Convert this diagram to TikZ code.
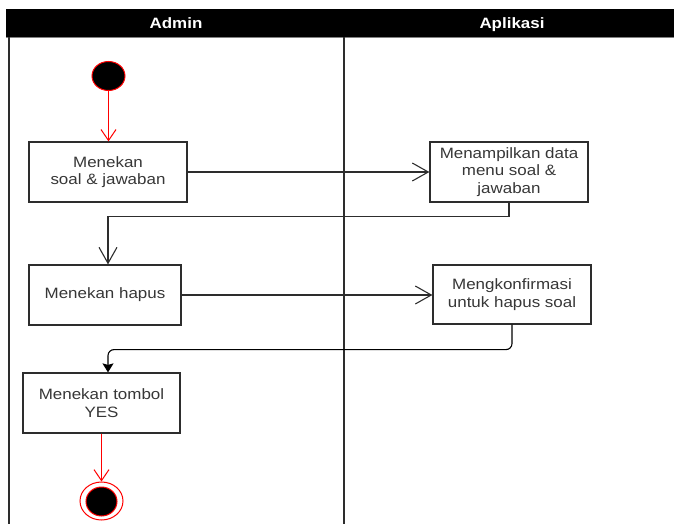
\documentclass[tikz,border=0pt]{standalone}
\usepackage{fontspec}
\setmainfont{Liberation Sans}
\newfontfamily\lblfont[FakeStretch=1.13]{Liberation Sans}
\usetikzlibrary{arrows.meta,shapes.geometric}
\definecolor{txtgray}{RGB}{55,55,55}
\definecolor{linegray}{RGB}{45,45,45}
\definecolor{umlred}{RGB}{255,0,0}
\tikzset{
  actbox/.style={draw=linegray, line width=1.2pt, fill=white, minimum width=158pt, minimum height=60pt,
    inner sep=0pt, align=center, text=txtgray, font=\lblfont\fontsize{15}{17.5}\selectfont},
  flow/.style={draw=linegray, line width=1.1pt, -{Straight Barb[length=16pt,width=18pt,line width=1.1pt]}},
  redflow/.style={draw=umlred, line width=1.1pt, -{Straight Barb[length=11pt,width=15pt,line width=1pt]}},
  blockflow/.style={draw=black, line width=1.1pt, -{Stealth[length=9pt,width=11pt,inset=1.5pt]}},
  lanehead/.style={text=white, anchor=base, inner sep=0pt, font=\lblfont\bfseries\fontsize{15}{17}\selectfont},
  laneline/.style={draw=linegray, line width=2.4pt}
}
\begin{document}
\begin{tikzpicture}[x=1pt,y=-1pt]
\useasboundingbox (0,0) rectangle (674,524);
% header
\fill[black] (6,9) rectangle (674,37);
\draw[gray, line width=0.8pt] (6,37.2) -- (674,37.2);
\node[lanehead] (hadmin) at (176,28.5) {Admin};
\node[lanehead] (happ) at (512,28.5) {Aplikasi};
% lane lines
\draw[laneline, line width=2pt] (9,37) -- (9,524);
\draw[laneline] (344,37) -- (344,524);
% start
\node[draw=umlred, fill=black, ellipse, minimum width=33pt, minimum height=29pt, inner sep=0pt, line width=1pt] (start) at (108.5,76) {};
% boxes
\node[actbox] (b1) at (108,172) {Menekan\\soal \& jawaban};
\node[actbox] (b2) at (509,172) {Menampilkan data\\menu soal \&\\jawaban};
\node[actbox, minimum width=152pt] (b3) at (105,295) {Menekan hapus};
\node[actbox, minimum height=59pt] (b4) at (512,294.5) {Mengkonfirmasi\\untuk hapus soal};
\node[actbox, minimum width=157pt] (b5) at (101.5,403) {Menekan tombol\\YES};
% end
\node[draw=umlred, fill=white, ellipse, minimum width=43pt, minimum height=38pt, inner sep=0pt, line width=1pt] (endo) at (101.5,501) {};
\node[draw=umlred, fill=black, ellipse, minimum width=31pt, minimum height=29pt, inner sep=0pt, line width=1pt] (endi) at (101.5,501.5) {};
% connectors
\draw[redflow] (start) -- (start |- b1.north);
\draw[flow] (b1.east) -- (b1.east -| b2.west);
\draw[flow] (b2.south) -- ++(0,14) -| ([xshift=3pt]b3.north);
\draw[flow] (b3.east) -- (b3.east -| b4.west);
\draw[blockflow, rounded corners=6pt] (b4.south) -- ++(0,25) -| ([xshift=6.5pt]b5.north);
\draw[redflow] (b5.south) -- (endo.north);
\end{tikzpicture}
\end{document}
